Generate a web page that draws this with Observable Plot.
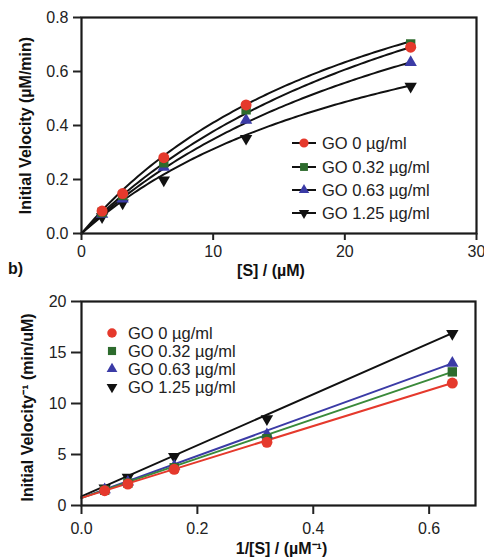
<!DOCTYPE html>
<html><head><meta charset="utf-8">
<script src="https://cdn.jsdelivr.net/npm/d3@7"></script>
<script src="https://cdn.jsdelivr.net/npm/@observablehq/plot@0.6"></script>
<style>
body{margin:0;background:#fff;font-family:"Liberation Sans",Arial,sans-serif;}
#wrap{position:relative;width:484px;height:558px;overflow:hidden;background:#fff;}
.panel{position:absolute;left:0;}
#overlay{position:absolute;left:0;top:0;}
</style></head><body><div id="wrap"></div>
<script>
// ---- data ----
const series = ["GO 0 µg/ml", "GO 0.32 µg/ml", "GO 0.63 µg/ml", "GO 1.25 µg/ml"];
const colors = ["#e5392c", "#2d6b2d", "#3b3ba6", "#111111"];
const lineColors = ["#e5392c", "#3a8a3a", "#3b3ba6", "#111111"];
const substrate = [1.5625, 3.125, 6.25, 12.5, 25];
const velocity_0 = [0.083, 0.148, 0.281, 0.476, 0.690];
const velocity_032 = [0.078, 0.141, 0.262, 0.458, 0.702];
const velocity_063 = [0.072, 0.128, 0.246, 0.420, 0.634];
const velocity_125 = [0.062, 0.113, 0.198, 0.352, 0.545];
const invSubstrate = [0.04, 0.08, 0.16, 0.32, 0.64];
const invVelocity_0 = [1.45, 2.1, 3.55, 6.2, 12.0];
const invVelocity_032 = [1.5, 2.2, 3.7, 6.55, 13.1];
const invVelocity_063 = [1.55, 2.3, 3.85, 6.95, 13.95];
const invVelocity_125 = [1.7, 2.75, 4.8, 8.5, 16.85];
// fitted Michaelis-Menten parameters (top) and Lineweaver-Burk lines (bottom)
const vmax = [1.395, 1.535, 1.395, 1.098];
const km = [24.0, 30.6, 30.0, 25.1];
const lbIntercept = [0.75, 0.75, 0.75, 0.9];
const lbSlope = [17.6, 19.3, 20.6, 25.0];
const xTicksTop = [0, 10, 20, 30];
const yTicksTop = [0, 0.2, 0.4, 0.6, 0.8];
const xTicksBottom = [0, 0.2, 0.4, 0.6];
const yTicksBottom = [0, 5, 10, 15, 20];

const velocities = [velocity_0, velocity_032, velocity_063, velocity_125];
const invVelocities = [invVelocity_0, invVelocity_032, invVelocity_063, invVelocity_125];

const triangleDown = {
  draw(ctx, size) {
    const s3 = Math.sqrt(3);
    const y = -Math.sqrt(size / (s3 * 3));
    ctx.moveTo(0, -y * 2);
    ctx.lineTo(-s3 * y, y);
    ctx.lineTo(s3 * y, y);
    ctx.closePath();
  }
};
const symbols = ["circle", "square", "triangle", triangleDown];
const d3symbols = [d3.symbolCircle, d3.symbolSquare, d3.symbolTriangle, triangleDown];
const rs = [5.5, 5.3, 4.6, 4.6];

const order = [3, 2, 1, 0];

const topPoints = series.map((s, i) => substrate.map((x, j) => ({s, x, y: velocities[i][j]})));
const topCurves = series.map((s, i) => d3.range(0, 25.001, 0.25).map(x => ({s, x, y: vmax[i] * x / (km[i] + x)})));
const botPoints = series.map((s, i) => invSubstrate.map((x, j) => ({s, x, y: invVelocities[i][j]})));
const botLines = series.map((s, i) => [0, 0.64].map(x => ({s, x, y: lbIntercept[i] + lbSlope[i] * x})));

const font = {fontFamily: "'Liberation Sans', Arial, sans-serif", fontSize: "16px", color: "#222", background: "transparent"};

const topPlot = Plot.plot({
  width: 484, height: 280,
  marginLeft: 81, marginRight: 8, marginTop: 17, marginBottom: 47,
  style: font,
  x: {domain: [0, 30]},
  y: {domain: [0, 0.8]},
  marks: [
    ...order.map(i => Plot.line(topCurves[i], {x: "x", y: "y", stroke: "#111", strokeWidth: 2})),
    ...order.map(i => Plot.dot(topPoints[i], {x: "x", y: "y", fill: colors[i], symbol: symbols[i], r: rs[i]})),
    Plot.frame({stroke: "#1a1a1a", strokeWidth: 2.2}),
    Plot.axisX({ticks: xTicksTop, tickSize: 7, tickPadding: 5, strokeWidth: 2, label: null, tickFormat: d3.format("d")}),
    Plot.axisY({ticks: yTicksTop, tickSize: 8, tickPadding: 5, strokeWidth: 2, label: null, tickFormat: d3.format(".1f")}),
    Plot.text(["Initial Velocity (µM/min)"], {frameAnchor: "left", rotate: -90, dx: -56, dy: 0, textAnchor: "middle", lineAnchor: "middle", fontWeight: "bold", fontSize: 16, fill: "#111"}),
    Plot.text(["[S] / (µM)"], {frameAnchor: "bottom", dy: 37, dx: -8, textAnchor: "middle", lineAnchor: "middle", fontWeight: "bold", fontSize: 16, fill: "#111"})
  ]
});

const bottomPlot = Plot.plot({
  width: 484, height: 278,
  marginLeft: 81, marginRight: 9, marginTop: 21, marginBottom: 53,
  style: font,
  x: {domain: [0, 0.68]},
  y: {domain: [0, 20]},
  marks: [
    ...order.map(i => Plot.line(botLines[i], {x: "x", y: "y", stroke: lineColors[i], strokeWidth: 2})),
    ...order.map(i => Plot.dot(botPoints[i], {x: "x", y: "y", fill: colors[i], symbol: symbols[i], r: rs[i]})),
    Plot.frame({stroke: "#1a1a1a", strokeWidth: 2.2}),
    Plot.axisX({ticks: xTicksBottom, tickSize: 9, tickPadding: 8, strokeWidth: 2, label: null, tickFormat: d3.format(".1f")}),
    Plot.axisY({ticks: yTicksBottom, tickSize: 10, tickPadding: 5, strokeWidth: 2, label: null, tickFormat: d3.format("d")}),
    Plot.text(["Initial Velocity⁻¹ (min/uM)"], {frameAnchor: "left", rotate: -90, dx: -54, dy: 4, textAnchor: "middle", lineAnchor: "middle", fontWeight: "bold", fontSize: 16, fill: "#111"}),
    Plot.text(["1/[S] / (µM⁻¹)"], {frameAnchor: "bottom", dy: 43, dx: 3, textAnchor: "middle", lineAnchor: "middle", fontWeight: "bold", fontSize: 16, fill: "#111"})
  ]
});

const wrap = document.getElementById("wrap");
topPlot.classList.add("panel"); topPlot.style.top = "0px";
bottomPlot.classList.add("panel"); bottomPlot.style.top = "280px";
wrap.appendChild(topPlot);
wrap.appendChild(bottomPlot);

const ov = d3.select(wrap).append("svg").attr("id", "overlay").attr("width", 484).attr("height", 558)
  .style("font-family", "'Liberation Sans', Arial, sans-serif");
ov.append("text").attr("x", 8).attr("y", 274).attr("font-weight", "bold").attr("font-size", 16).attr("fill", "#111").text("b)");

const topRows = [143, 167, 190, 213];
series.forEach((s, i) => {
  const g = ov.append("g").attr("transform", `translate(0,${topRows[i]})`);
  g.append("line").attr("x1", 292).attr("x2", 316).attr("stroke", "#111").attr("stroke-width", 2);
  g.append("path").attr("transform", "translate(304,0)").attr("d", d3.symbol(d3symbols[i], Math.PI * rs[i] * rs[i] * 0.7)()).attr("fill", colors[i]);
  g.append("text").attr("x", 322).attr("dy", "0.35em").attr("font-size", 16.5).attr("fill", "#222").text(s);
});
const botRows = [333, 351, 369, 387];
series.forEach((s, i) => {
  const g = ov.append("g").attr("transform", `translate(0,${botRows[i]})`);
  g.append("path").attr("transform", "translate(112,0)").attr("d", d3.symbol(d3symbols[i], Math.PI * rs[i] * rs[i] * 0.75)()).attr("fill", colors[i]);
  g.append("text").attr("x", 128).attr("dy", "0.35em").attr("font-size", 16.5).attr("fill", "#222").text(s);
});
</script></body></html>
